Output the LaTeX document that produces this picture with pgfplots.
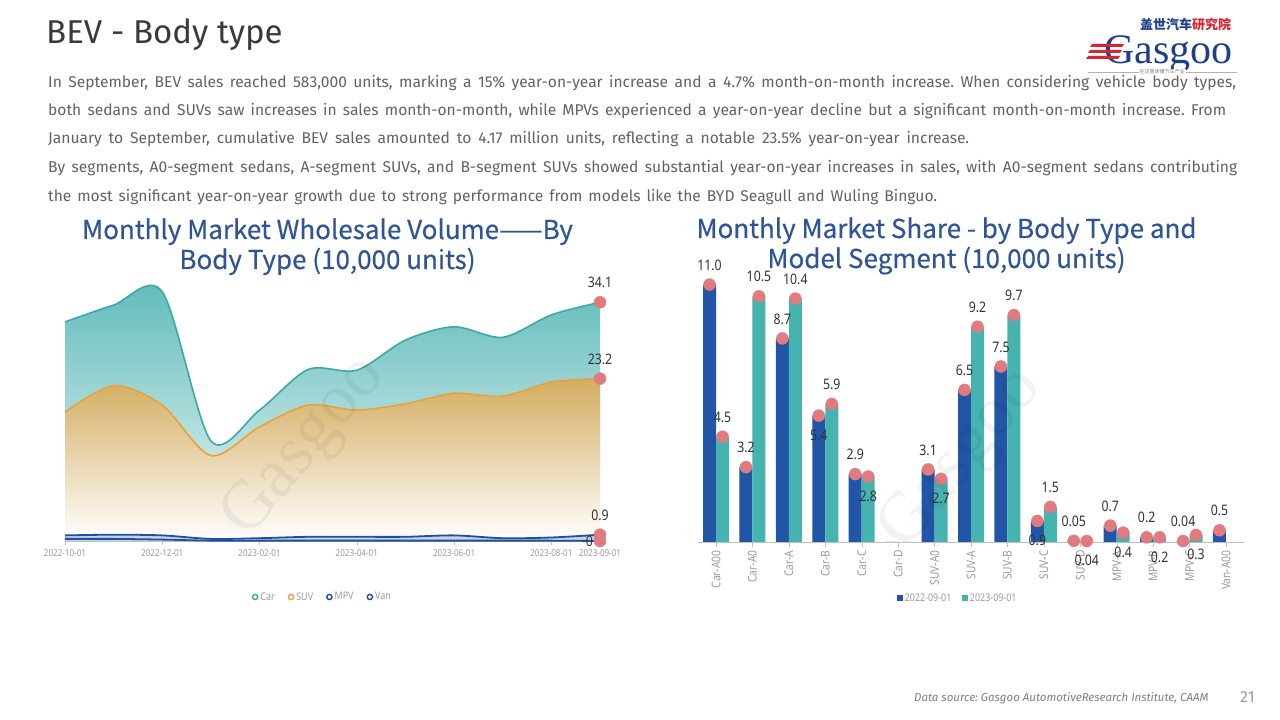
\documentclass[border=0pt]{standalone}
\usepackage{pgfplots}
\pgfplotsset{compat=1.18}
\usepackage{fontspec}
\setmainfont{Fira Sans}
\newfontfamily\cjkf{Noto Sans CJK SC}
\newfontfamily\cjkb[FakeBold=0.4]{Noto Sans CJK SC}
\newfontfamily\numf[FakeStretch=0.85]{Noto Sans}
\newfontfamily\logof{Liberation Serif}
\definecolor{titleBlue}{HTML}{2F5597}
\definecolor{txtGray}{HTML}{626262}
\definecolor{headGray}{HTML}{3A3A3A}
\definecolor{tickGray}{HTML}{9A9A9A}
\definecolor{axisGray}{HTML}{BFBFBF}
\definecolor{labGray}{HTML}{333333}
\definecolor{carLine}{HTML}{3BAAA6}
\definecolor{carTop}{HTML}{5CB9B9}
\definecolor{carBot}{HTML}{EEF8F7}
\definecolor{suvLine}{HTML}{E8A23A}
\definecolor{suvTop}{HTML}{D3AD60}
\definecolor{suvBot}{HTML}{FFFFFF}
\definecolor{mpvLine}{HTML}{1E4FA0}
\definecolor{pinkM}{HTML}{E27B80}
\definecolor{barBlue}{HTML}{2156A6}
\definecolor{barTeal}{HTML}{45B3AF}
\definecolor{logoBlue}{HTML}{1F3E8C}
\definecolor{logoRed}{HTML}{D8262E}
\begin{document}
\frenchspacing
\begin{tikzpicture}[x=1pt,y=1pt]
\path[fill=white] (0,0) rectangle (1280,720);
% header
\node[anchor=base west, inner sep=0, text=headGray, font=\fontsize{33}{36}\selectfont] at (46,676) {BEV - Body type};
\begin{scope}[every node/.style={anchor=base west, inner sep=0, text=txtGray, font=\fontsize{15.6}{18}\selectfont}]
\node at (48,632.5) {\makebox[1188pt][s]{In September, BEV sales reached 583,000 units, marking a 15\% year-on-year increase and a 4.7\% month-on-month increase. When considering vehicle body types,}};
\node at (48,604.5) {\makebox[1178pt][s]{both sedans and SUVs saw increases in sales month-on-month, while MPVs experienced a year-on-year decline but a significant month-on-month increase. From}};
\node at (48,576.5) {\makebox[921pt][s]{January to September, cumulative BEV sales amounted to 4.17 million units, reflecting a notable 23.5\% year-on-year increase.}};
\node at (48,547.5) {\makebox[1189pt][s]{By segments, A0-segment sedans, A-segment SUVs, and B-segment SUVs showed substantial year-on-year increases in sales, with A0-segment sedans contributing}};
\node at (48,518.5) {\makebox[889pt][s]{the most significant year-on-year growth due to strong performance from models like the BYD Seagull and Wuling Binguo.}};
\end{scope}
% logo
\node[anchor=west, inner sep=0, font=\cjkf\bfseries\fontsize{13}{14}\selectfont] at (1140,695) {\textcolor{logoBlue}{盖世汽车}\textcolor{logoRed}{研究院}};
\node[anchor=base west, inner sep=0, text=logoBlue, font=\logof\fontsize{42}{44}\selectfont] at (1104,656) {Gasgoo};
\fill[logoRed] (1092,676) -- (1124,676) -- (1122,673) -- (1090,673) -- cycle;
\fill[logoRed] (1090,670) -- (1122,670) -- (1120,667) -- (1088,667) -- cycle;
\fill[logoRed] (1088,664) -- (1120,664) -- (1118,661) -- (1086,661) -- cycle;
\draw[gray!60, line width=0.4pt] (1088,648) -- (1237,648);
\node[fill=white, inner sep=1pt, text=gray, font=\cjkf\fontsize{5}{6}\selectfont] at (1162,648) {在这里读懂汽车产业};
% chart titles
\node[anchor=base, inner sep=0, text=titleBlue, font=\cjkb\fontsize{26}{30}\selectfont] at (327.5,481) {Monthly Market Wholesale Volume——By};
\node[anchor=base, inner sep=0, text=titleBlue, font=\cjkb\fontsize{26}{30}\selectfont] at (327.5,451) {Body Type (10,000 units)};
\node[anchor=base, inner sep=0, text=titleBlue, font=\cjkb\fontsize{26}{30}\selectfont] at (946.5,482) {Monthly Market Share - by Body Type and};
\node[anchor=base, inner sep=0, text=titleBlue, font=\cjkb\fontsize{26}{30}\selectfont] at (946.5,452) {Model Segment (10,000 units)};

% LEFT CHART
\begin{axis}[at={(65pt,179pt)}, anchor=south west, scale only axis,
  width=535pt, height=280pt, xmin=0, xmax=11, ymin=0, ymax=40, clip=false,
  axis x line=bottom, axis y line=none, axis line style={draw=axisGray,-},
  xtick={0,2,4,6,8,10,11},
  xticklabels={2022-10-01,2022-12-01,2023-02-01,2023-04-01,2023-06-01,2023-08-01,2023-09-01},
  x tick label style={font=\numf\fontsize{9.5}{10}\selectfont, text=tickGray, yshift=-1pt},
  tick align=outside, major tick length=4pt, tick style={draw=axisGray, thin},
  ytick=\empty,
  legend style={at={(0.481,-0.2)}, anchor=center, draw=none, fill=none,
    font=\numf\fontsize{10.5}{11}\selectfont, text=tickGray, legend columns=4,
    /tikz/every even column/.append style={column sep=11pt}},
]
\addplot[draw=none, smooth, top color=carTop, bottom color=carBot, forget plot] coordinates {
(0,31.3) (1,33.7) (2,35.6) (3,14.3) (4,18.7) (5,24.5) (6,24.4) (7,28.7) (8,30.6) (9,29.1) (10,32.3) (11,34.1)} \closedcycle;
\addplot[draw=none, smooth, top color=suvTop, bottom color=suvBot, forget plot] coordinates {
(0,18.4) (1,22.2) (2,19.4) (3,12.2) (4,16.3) (5,19.4) (6,18.7) (7,19.6) (8,21.1) (9,20.7) (10,22.7) (11,23.2)} \closedcycle;
\addplot[draw=none, smooth, fill=mpvLine!25, forget plot] coordinates {
(0,0.8) (1,0.9) (2,0.8) (3,0.3) (4,0.4) (5,0.6) (6,0.6) (7,0.6) (8,0.8) (9,0.4) (10,0.5) (11,0.9)} \closedcycle;
\addplot[carLine, line width=1.6pt, smooth, mark=none,
  legend image code/.code={\draw[carLine, line width=1.4pt, fill=white] (2.6pt,0pt) circle (2.6pt);}] coordinates {
(0,31.3) (1,33.7) (2,35.6) (3,14.3) (4,18.7) (5,24.5) (6,24.4) (7,28.7) (8,30.6) (9,29.1) (10,32.3) (11,34.1)};
\addlegendentry{Car}
\addplot[suvLine, line width=1.6pt, smooth, mark=none,
  legend image code/.code={\draw[suvLine, line width=1.4pt, fill=white] (2.6pt,0pt) circle (2.6pt);}] coordinates {
(0,18.4) (1,22.2) (2,19.4) (3,12.2) (4,16.3) (5,19.4) (6,18.7) (7,19.6) (8,21.1) (9,20.7) (10,22.7) (11,23.2)};
\addlegendentry{SUV}
\addplot[mpvLine, line width=1.8pt, smooth, mark=none,
  legend image code/.code={\draw[mpvLine, line width=1.4pt, fill=white] (2.6pt,0pt) circle (2.6pt);}] coordinates {
(0,0.8) (1,0.9) (2,0.8) (3,0.3) (4,0.4) (5,0.6) (6,0.6) (7,0.6) (8,0.8) (9,0.4) (10,0.5) (11,0.9)};
\addlegendentry{MPV}
\addplot[mpvLine, line width=1.8pt, smooth, mark=none,
  legend image code/.code={\draw[mpvLine, line width=1.4pt, fill=white] (2.6pt,0pt) circle (2.6pt);}] coordinates {
(0,0.3) (1,0.3) (2,0.2) (3,0.05) (4,0.05) (5,0.05) (6,0.05) (7,0.05) (8,0.05) (9,0.05) (10,0.05) (11,0)};
\addlegendentry{Van}
\addplot[only marks, mark=*, mark size=6pt, color=pinkM, forget plot,
  point meta=explicit symbolic, nodes near coords,
  every node near coord/.append style={anchor=south, inner sep=0, yshift=14pt, text=labGray, font=\numf\fontsize{14.5}{16}\selectfont}]
  coordinates {(11,34.1) [34.1] (11,23.2) [23.2] (11,0.9) [0.9]};
\addplot[only marks, mark=*, mark size=6pt, color=pinkM, forget plot,
  point meta=explicit symbolic, nodes near coords,
  every node near coord/.append style={anchor=east, inner sep=0, xshift=-7pt, text=labGray, font=\numf\fontsize{14.5}{16}\selectfont}]
  coordinates {(11,0) [0]};
\end{axis}

% RIGHT CHART
\begin{axis}[at={(697.8pt,178pt)}, anchor=south west, scale only axis,
  width=546.4pt, height=280.8pt, xmin=-0.5, xmax=14.5, ymin=0, ymax=12, clip=false,
  axis x line=bottom, axis y line=none, axis line style={draw=axisGray,-},
  xtick={0,...,14},
  xticklabels={Car-A00,Car-A0,Car-A,Car-B,Car-C,Car-D,SUV-A0,SUV-A,SUV-B,SUV-C,SUV-D,MPV-A,MPV-B,MPV-C,Van-A00},
  x tick label style={rotate=90, anchor=east, font=\numf\fontsize{12}{13}\selectfont, text=tickGray},
  tick align=outside, major tick length=5pt, tick style={draw=axisGray, thin},
  ytick=\empty,
  legend style={at={(0.476,-0.1994)}, anchor=center, draw=none, fill=none,
    font=\numf\fontsize{10.5}{11}\selectfont, text=tickGray, legend columns=2,
    /tikz/every even column/.append style={column sep=9pt}},
]
\addplot[ybar, bar width=13pt, bar shift=-6.5pt, fill=barBlue, draw=none,
  legend image code/.code={\fill[barBlue] (0pt,-2.8pt) rectangle (5.6pt,2.8pt);}] coordinates {
(0,11.0) (1,3.2) (2,8.7) (3,5.4) (4,2.9) (5,0) (6,3.1) (7,6.5) (8,7.5) (9,0.9) (10,0.05) (11,0.7) (12,0.2) (13,0.04) (14,0.5)};
\addlegendentry{2022-09-01}
\addplot[ybar, bar width=13pt, bar shift=6.5pt, fill=barTeal, draw=none,
  legend image code/.code={\fill[barTeal] (0pt,-2.8pt) rectangle (5.6pt,2.8pt);}] coordinates {
(0,4.5) (1,10.5) (2,10.4) (3,5.9) (4,2.8) (5,0) (6,2.7) (7,9.2) (8,9.7) (9,1.5) (10,0.04) (11,0.4) (12,0.2) (13,0.3)};
\addlegendentry{2023-09-01}
% markers with labels above
\addplot[only marks, mark=*, mark size=6pt, color=pinkM, forget plot,
  point meta=explicit symbolic, nodes near coords,
  every node near coord/.append style={anchor=south, inner sep=0, yshift=14pt, text=labGray, font=\numf\fontsize{14.5}{16}\selectfont}]
  coordinates {(-0.178,11.0) [11.0] (0.822,3.2) [3.2] (1.822,8.7) [8.7] (3.822,2.9) [2.9] (5.822,3.1) [3.1] (6.822,6.5) [6.5] (7.822,7.5) [7.5] (9.822,0.05) [0.05] (10.822,0.7) [0.7] (11.822,0.2) [0.2] (12.822,0.04) [0.04] (13.822,0.5) [0.5]
  (0.178,4.5) [4.5] (1.178,10.5) [10.5] (2.178,10.4) [10.4] (3.178,5.9) [5.9] (7.178,9.2) [9.2] (8.178,9.7) [9.7] (9.178,1.5) [1.5]};
% markers with labels below
\addplot[only marks, mark=*, mark size=6pt, color=pinkM, forget plot,
  point meta=explicit symbolic, nodes near coords,
  every node near coord/.append style={anchor=north, inner sep=0, yshift=-14pt, text=labGray, font=\numf\fontsize{14.5}{16}\selectfont}]
  coordinates {(2.822,5.4) [5.4] (8.822,0.9) [0.9]
  (4.178,2.8) [2.8] (6.178,2.7) [2.7] (10.178,0.04) [0.04] (11.178,0.4) [0.4] (12.178,0.2) [0.2] (13.178,0.3) [0.3]};
\end{axis}

% watermarks (faint, on top)
\node[rotate=50, text=black, opacity=0.05, font=\logof\fontsize{70}{70}\selectfont] at (305,272) {Gasgoo};
\node[rotate=50, text=black, opacity=0.05, font=\logof\fontsize{70}{70}\selectfont] at (962,260) {Gasgoo};

% footer
\node[anchor=base west, inner sep=0, text=gray, font=\itshape\fontsize{11.5}{13}\selectfont] at (914,18) {Data source: Gasgoo AutomotiveResearch Institute, CAAM};
\node[anchor=base west, inner sep=0, text=tickGray, font=\fontsize{16}{18}\selectfont] at (1240,17) {21};
\end{tikzpicture}
\end{document}
